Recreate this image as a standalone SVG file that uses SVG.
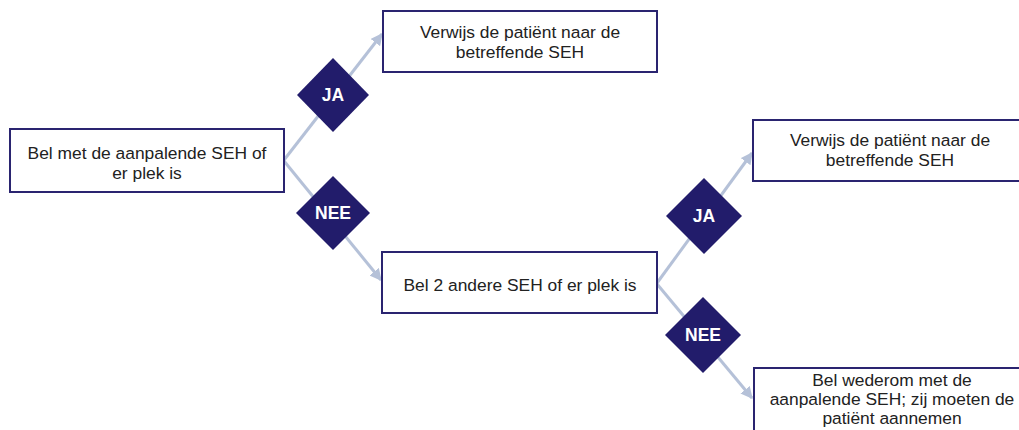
<svg xmlns="http://www.w3.org/2000/svg" width="1019" height="430" viewBox="0 0 1019 430">
<style>
.box{fill:#fff;stroke:#2a2470;stroke-width:2}
.t{font-family:"Liberation Sans",Arial,sans-serif;font-size:17.4px;fill:#222;text-anchor:middle}
.d{fill:#221c6b}
.dt{font-family:"Liberation Sans",Arial,sans-serif;font-size:17.5px;font-weight:bold;fill:#fff;text-anchor:middle}
.c{stroke:#b5c1d8;stroke-width:3;fill:none;marker-end:url(#ah)}
</style>
<defs>
<marker id="ah" viewBox="0 0 10 10" refX="9" refY="5" markerWidth="4" markerHeight="4" orient="auto" markerUnits="strokeWidth">
<path d="M0,0 L10,5 L0,10 z" fill="#b5c1d8"/>
</marker>
</defs>
<rect width="1019" height="430" fill="#fff"/>
<g id="connectors">
<path class="c" d="M284,160 L382,34"/>
<path class="c" d="M284,161 L381,280"/>
<path class="c" d="M657,283 L752,153"/>
<path class="c" d="M657,284 L752,398"/>
</g>
<g id="n1"><rect class="box" x="10" y="129" width="274" height="63"/>
<text class="t" x="147" y="159">Bel met de aanpalende SEH of</text>
<text class="t" x="147" y="179">er plek is</text></g>
<g id="n2"><rect class="box" x="383" y="11" width="274" height="61"/>
<text class="t" x="520" y="38">Verwijs de patiënt naar de</text>
<text class="t" x="520" y="58">betreffende SEH</text></g>
<g id="n3"><rect class="box" x="382" y="252" width="275" height="61"/>
<text class="t" x="520" y="291">Bel 2 andere SEH of er plek is</text></g>
<g id="n4"><rect class="box" x="753" y="120" width="276" height="61"/>
<text class="t" x="890" y="146">Verwijs de patiënt naar de</text>
<text class="t" x="890" y="166">betreffende SEH</text></g>
<g id="n5"><rect class="box" x="754" y="368" width="278" height="80"/>
<text class="t" x="892" y="386">Bel wederom met de</text>
<text class="t" x="892" y="405">aanpalende SEH; zij moeten de</text>
<text class="t" x="892" y="424">patiënt aannemen</text></g>
<g id="d1"><polygon class="d" points="333,58 369,95 333,132 297,95"/>
<text class="dt" x="333" y="101">JA</text></g>
<g id="d2"><polygon class="d" points="333,176 370,213 333,250 296,213"/>
<text class="dt" x="333" y="219">NEE</text></g>
<g id="d3"><polygon class="d" points="704,178 742,216 704,254 666,216"/>
<text class="dt" x="704" y="222">JA</text></g>
<g id="d4"><polygon class="d" points="703,297 741,335 703,373 665,335"/>
<text class="dt" x="703" y="341">NEE</text></g>
</svg>
